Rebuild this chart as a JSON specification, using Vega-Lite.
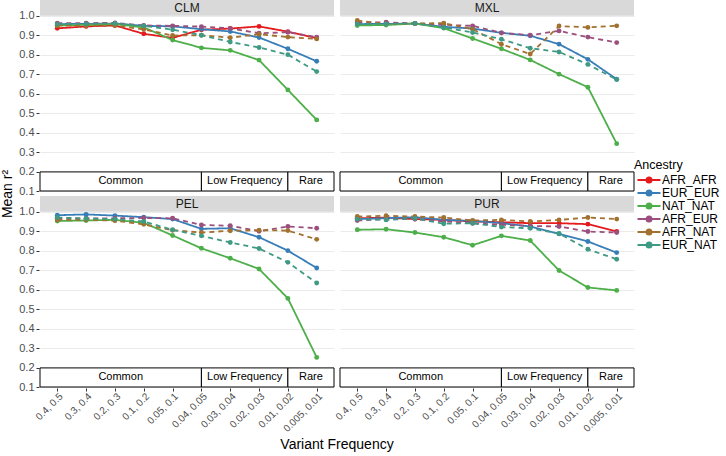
{
  "$schema": "https://vega.github.io/schema/vega-lite/v6.json",
  "padding": {"left": 0, "top": 0, "right": 0, "bottom": 0},
  "background": "white",
  "datasets": {
    "series": [
      {"Population":"CLM","Ancestry":"AFR_AFR","Bin":1,"r2":0.935},{"Population":"CLM","Ancestry":"AFR_AFR","Bin":2,"r2":0.945},{"Population":"CLM","Ancestry":"AFR_AFR","Bin":3,"r2":0.95},{"Population":"CLM","Ancestry":"AFR_AFR","Bin":4,"r2":0.907},{"Population":"CLM","Ancestry":"AFR_AFR","Bin":5,"r2":0.886},{"Population":"CLM","Ancestry":"AFR_AFR","Bin":6,"r2":0.928},{"Population":"CLM","Ancestry":"AFR_AFR","Bin":7,"r2":0.934},{"Population":"CLM","Ancestry":"AFR_AFR","Bin":8,"r2":0.945},{"Population":"CLM","Ancestry":"AFR_AFR","Bin":9,"r2":0.918},{"Population":"CLM","Ancestry":"AFR_AFR","Bin":10,"r2":0.885},
      {"Population":"CLM","Ancestry":"EUR_EUR","Bin":1,"r2":0.957},{"Population":"CLM","Ancestry":"EUR_EUR","Bin":2,"r2":0.958},{"Population":"CLM","Ancestry":"EUR_EUR","Bin":3,"r2":0.96},{"Population":"CLM","Ancestry":"EUR_EUR","Bin":4,"r2":0.948},{"Population":"CLM","Ancestry":"EUR_EUR","Bin":5,"r2":0.945},{"Population":"CLM","Ancestry":"EUR_EUR","Bin":6,"r2":0.931},{"Population":"CLM","Ancestry":"EUR_EUR","Bin":7,"r2":0.919},{"Population":"CLM","Ancestry":"EUR_EUR","Bin":8,"r2":0.888},{"Population":"CLM","Ancestry":"EUR_EUR","Bin":9,"r2":0.83},{"Population":"CLM","Ancestry":"EUR_EUR","Bin":10,"r2":0.766},
      {"Population":"CLM","Ancestry":"NAT_NAT","Bin":1,"r2":0.95},{"Population":"CLM","Ancestry":"NAT_NAT","Bin":2,"r2":0.953},{"Population":"CLM","Ancestry":"NAT_NAT","Bin":3,"r2":0.957},{"Population":"CLM","Ancestry":"NAT_NAT","Bin":4,"r2":0.94},{"Population":"CLM","Ancestry":"NAT_NAT","Bin":5,"r2":0.875},{"Population":"CLM","Ancestry":"NAT_NAT","Bin":6,"r2":0.835},{"Population":"CLM","Ancestry":"NAT_NAT","Bin":7,"r2":0.822},{"Population":"CLM","Ancestry":"NAT_NAT","Bin":8,"r2":0.772},{"Population":"CLM","Ancestry":"NAT_NAT","Bin":9,"r2":0.619},{"Population":"CLM","Ancestry":"NAT_NAT","Bin":10,"r2":0.465},
      {"Population":"CLM","Ancestry":"AFR_EUR","Bin":1,"r2":0.962},{"Population":"CLM","Ancestry":"AFR_EUR","Bin":2,"r2":0.962},{"Population":"CLM","Ancestry":"AFR_EUR","Bin":3,"r2":0.963},{"Population":"CLM","Ancestry":"AFR_EUR","Bin":4,"r2":0.95},{"Population":"CLM","Ancestry":"AFR_EUR","Bin":5,"r2":0.948},{"Population":"CLM","Ancestry":"AFR_EUR","Bin":6,"r2":0.944},{"Population":"CLM","Ancestry":"AFR_EUR","Bin":7,"r2":0.935},{"Population":"CLM","Ancestry":"AFR_EUR","Bin":8,"r2":0.91},{"Population":"CLM","Ancestry":"AFR_EUR","Bin":9,"r2":0.915},{"Population":"CLM","Ancestry":"AFR_EUR","Bin":10,"r2":0.89},
      {"Population":"CLM","Ancestry":"AFR_NAT","Bin":1,"r2":0.95},{"Population":"CLM","Ancestry":"AFR_NAT","Bin":2,"r2":0.948},{"Population":"CLM","Ancestry":"AFR_NAT","Bin":3,"r2":0.95},{"Population":"CLM","Ancestry":"AFR_NAT","Bin":4,"r2":0.93},{"Population":"CLM","Ancestry":"AFR_NAT","Bin":5,"r2":0.898},{"Population":"CLM","Ancestry":"AFR_NAT","Bin":6,"r2":0.9},{"Population":"CLM","Ancestry":"AFR_NAT","Bin":7,"r2":0.887},{"Population":"CLM","Ancestry":"AFR_NAT","Bin":8,"r2":0.905},{"Population":"CLM","Ancestry":"AFR_NAT","Bin":9,"r2":0.89},{"Population":"CLM","Ancestry":"AFR_NAT","Bin":10,"r2":0.881},
      {"Population":"CLM","Ancestry":"EUR_NAT","Bin":1,"r2":0.957},{"Population":"CLM","Ancestry":"EUR_NAT","Bin":2,"r2":0.958},{"Population":"CLM","Ancestry":"EUR_NAT","Bin":3,"r2":0.96},{"Population":"CLM","Ancestry":"EUR_NAT","Bin":4,"r2":0.948},{"Population":"CLM","Ancestry":"EUR_NAT","Bin":5,"r2":0.928},{"Population":"CLM","Ancestry":"EUR_NAT","Bin":6,"r2":0.9},{"Population":"CLM","Ancestry":"EUR_NAT","Bin":7,"r2":0.865},{"Population":"CLM","Ancestry":"EUR_NAT","Bin":8,"r2":0.837},{"Population":"CLM","Ancestry":"EUR_NAT","Bin":9,"r2":0.8},{"Population":"CLM","Ancestry":"EUR_NAT","Bin":10,"r2":0.713},
      {"Population":"MXL","Ancestry":"EUR_EUR","Bin":1,"r2":0.957},{"Population":"MXL","Ancestry":"EUR_EUR","Bin":2,"r2":0.958},{"Population":"MXL","Ancestry":"EUR_EUR","Bin":3,"r2":0.96},{"Population":"MXL","Ancestry":"EUR_EUR","Bin":4,"r2":0.943},{"Population":"MXL","Ancestry":"EUR_EUR","Bin":5,"r2":0.934},{"Population":"MXL","Ancestry":"EUR_EUR","Bin":6,"r2":0.912},{"Population":"MXL","Ancestry":"EUR_EUR","Bin":7,"r2":0.897},{"Population":"MXL","Ancestry":"EUR_EUR","Bin":8,"r2":0.854},{"Population":"MXL","Ancestry":"EUR_EUR","Bin":9,"r2":0.776},{"Population":"MXL","Ancestry":"EUR_EUR","Bin":10,"r2":0.674},
      {"Population":"MXL","Ancestry":"NAT_NAT","Bin":1,"r2":0.95},{"Population":"MXL","Ancestry":"NAT_NAT","Bin":2,"r2":0.952},{"Population":"MXL","Ancestry":"NAT_NAT","Bin":3,"r2":0.96},{"Population":"MXL","Ancestry":"NAT_NAT","Bin":4,"r2":0.936},{"Population":"MXL","Ancestry":"NAT_NAT","Bin":5,"r2":0.883},{"Population":"MXL","Ancestry":"NAT_NAT","Bin":6,"r2":0.83},{"Population":"MXL","Ancestry":"NAT_NAT","Bin":7,"r2":0.773},{"Population":"MXL","Ancestry":"NAT_NAT","Bin":8,"r2":0.7},{"Population":"MXL","Ancestry":"NAT_NAT","Bin":9,"r2":0.633},{"Population":"MXL","Ancestry":"NAT_NAT","Bin":10,"r2":0.343},
      {"Population":"MXL","Ancestry":"AFR_EUR","Bin":1,"r2":0.965},{"Population":"MXL","Ancestry":"AFR_EUR","Bin":2,"r2":0.966},{"Population":"MXL","Ancestry":"AFR_EUR","Bin":3,"r2":0.96},{"Population":"MXL","Ancestry":"AFR_EUR","Bin":4,"r2":0.953},{"Population":"MXL","Ancestry":"AFR_EUR","Bin":5,"r2":0.948},{"Population":"MXL","Ancestry":"AFR_EUR","Bin":6,"r2":0.912},{"Population":"MXL","Ancestry":"AFR_EUR","Bin":7,"r2":0.9},{"Population":"MXL","Ancestry":"AFR_EUR","Bin":8,"r2":0.922},{"Population":"MXL","Ancestry":"AFR_EUR","Bin":9,"r2":0.89},{"Population":"MXL","Ancestry":"AFR_EUR","Bin":10,"r2":0.862},
      {"Population":"MXL","Ancestry":"AFR_NAT","Bin":1,"r2":0.975},{"Population":"MXL","Ancestry":"AFR_NAT","Bin":2,"r2":0.958},{"Population":"MXL","Ancestry":"AFR_NAT","Bin":3,"r2":0.96},{"Population":"MXL","Ancestry":"AFR_NAT","Bin":4,"r2":0.962},{"Population":"MXL","Ancestry":"AFR_NAT","Bin":5,"r2":0.931},{"Population":"MXL","Ancestry":"AFR_NAT","Bin":6,"r2":0.854},{"Population":"MXL","Ancestry":"AFR_NAT","Bin":7,"r2":0.803},{"Population":"MXL","Ancestry":"AFR_NAT","Bin":8,"r2":0.947},{"Population":"MXL","Ancestry":"AFR_NAT","Bin":9,"r2":0.94},{"Population":"MXL","Ancestry":"AFR_NAT","Bin":10,"r2":0.948},
      {"Population":"MXL","Ancestry":"EUR_NAT","Bin":1,"r2":0.957},{"Population":"MXL","Ancestry":"EUR_NAT","Bin":2,"r2":0.958},{"Population":"MXL","Ancestry":"EUR_NAT","Bin":3,"r2":0.96},{"Population":"MXL","Ancestry":"EUR_NAT","Bin":4,"r2":0.94},{"Population":"MXL","Ancestry":"EUR_NAT","Bin":5,"r2":0.914},{"Population":"MXL","Ancestry":"EUR_NAT","Bin":6,"r2":0.879},{"Population":"MXL","Ancestry":"EUR_NAT","Bin":7,"r2":0.833},{"Population":"MXL","Ancestry":"EUR_NAT","Bin":8,"r2":0.814},{"Population":"MXL","Ancestry":"EUR_NAT","Bin":9,"r2":0.75},{"Population":"MXL","Ancestry":"EUR_NAT","Bin":10,"r2":0.672},
      {"Population":"PEL","Ancestry":"EUR_EUR","Bin":1,"r2":0.982},{"Population":"PEL","Ancestry":"EUR_EUR","Bin":2,"r2":0.986},{"Population":"PEL","Ancestry":"EUR_EUR","Bin":3,"r2":0.98},{"Population":"PEL","Ancestry":"EUR_EUR","Bin":4,"r2":0.972},{"Population":"PEL","Ancestry":"EUR_EUR","Bin":5,"r2":0.962},{"Population":"PEL","Ancestry":"EUR_EUR","Bin":6,"r2":0.912},{"Population":"PEL","Ancestry":"EUR_EUR","Bin":7,"r2":0.915},{"Population":"PEL","Ancestry":"EUR_EUR","Bin":8,"r2":0.869},{"Population":"PEL","Ancestry":"EUR_EUR","Bin":9,"r2":0.8},{"Population":"PEL","Ancestry":"EUR_EUR","Bin":10,"r2":0.711},
      {"Population":"PEL","Ancestry":"NAT_NAT","Bin":1,"r2":0.952},{"Population":"PEL","Ancestry":"NAT_NAT","Bin":2,"r2":0.955},{"Population":"PEL","Ancestry":"NAT_NAT","Bin":3,"r2":0.958},{"Population":"PEL","Ancestry":"NAT_NAT","Bin":4,"r2":0.943},{"Population":"PEL","Ancestry":"NAT_NAT","Bin":5,"r2":0.878},{"Population":"PEL","Ancestry":"NAT_NAT","Bin":6,"r2":0.812},{"Population":"PEL","Ancestry":"NAT_NAT","Bin":7,"r2":0.761},{"Population":"PEL","Ancestry":"NAT_NAT","Bin":8,"r2":0.706},{"Population":"PEL","Ancestry":"NAT_NAT","Bin":9,"r2":0.555},{"Population":"PEL","Ancestry":"NAT_NAT","Bin":10,"r2":0.252},
      {"Population":"PEL","Ancestry":"AFR_EUR","Bin":1,"r2":0.966},{"Population":"PEL","Ancestry":"AFR_EUR","Bin":2,"r2":0.966},{"Population":"PEL","Ancestry":"AFR_EUR","Bin":3,"r2":0.966},{"Population":"PEL","Ancestry":"AFR_EUR","Bin":4,"r2":0.968},{"Population":"PEL","Ancestry":"AFR_EUR","Bin":5,"r2":0.966},{"Population":"PEL","Ancestry":"AFR_EUR","Bin":6,"r2":0.932},{"Population":"PEL","Ancestry":"AFR_EUR","Bin":7,"r2":0.928},{"Population":"PEL","Ancestry":"AFR_EUR","Bin":8,"r2":0.9},{"Population":"PEL","Ancestry":"AFR_EUR","Bin":9,"r2":0.924},{"Population":"PEL","Ancestry":"AFR_EUR","Bin":10,"r2":0.915},
      {"Population":"PEL","Ancestry":"AFR_NAT","Bin":1,"r2":0.958},{"Population":"PEL","Ancestry":"AFR_NAT","Bin":2,"r2":0.958},{"Population":"PEL","Ancestry":"AFR_NAT","Bin":3,"r2":0.954},{"Population":"PEL","Ancestry":"AFR_NAT","Bin":4,"r2":0.935},{"Population":"PEL","Ancestry":"AFR_NAT","Bin":5,"r2":0.905},{"Population":"PEL","Ancestry":"AFR_NAT","Bin":6,"r2":0.893},{"Population":"PEL","Ancestry":"AFR_NAT","Bin":7,"r2":0.902},{"Population":"PEL","Ancestry":"AFR_NAT","Bin":8,"r2":0.905},{"Population":"PEL","Ancestry":"AFR_NAT","Bin":9,"r2":0.903},{"Population":"PEL","Ancestry":"AFR_NAT","Bin":10,"r2":0.858},
      {"Population":"PEL","Ancestry":"EUR_NAT","Bin":1,"r2":0.97},{"Population":"PEL","Ancestry":"EUR_NAT","Bin":2,"r2":0.965},{"Population":"PEL","Ancestry":"EUR_NAT","Bin":3,"r2":0.962},{"Population":"PEL","Ancestry":"EUR_NAT","Bin":4,"r2":0.95},{"Population":"PEL","Ancestry":"EUR_NAT","Bin":5,"r2":0.907},{"Population":"PEL","Ancestry":"EUR_NAT","Bin":6,"r2":0.876},{"Population":"PEL","Ancestry":"EUR_NAT","Bin":7,"r2":0.842},{"Population":"PEL","Ancestry":"EUR_NAT","Bin":8,"r2":0.811},{"Population":"PEL","Ancestry":"EUR_NAT","Bin":9,"r2":0.74},{"Population":"PEL","Ancestry":"EUR_NAT","Bin":10,"r2":0.634},
      {"Population":"PUR","Ancestry":"AFR_AFR","Bin":1,"r2":0.966},{"Population":"PUR","Ancestry":"AFR_AFR","Bin":2,"r2":0.97},{"Population":"PUR","Ancestry":"AFR_AFR","Bin":3,"r2":0.962},{"Population":"PUR","Ancestry":"AFR_AFR","Bin":4,"r2":0.958},{"Population":"PUR","Ancestry":"AFR_AFR","Bin":5,"r2":0.95},{"Population":"PUR","Ancestry":"AFR_AFR","Bin":6,"r2":0.946},{"Population":"PUR","Ancestry":"AFR_AFR","Bin":7,"r2":0.941},{"Population":"PUR","Ancestry":"AFR_AFR","Bin":8,"r2":0.941},{"Population":"PUR","Ancestry":"AFR_AFR","Bin":9,"r2":0.936},{"Population":"PUR","Ancestry":"AFR_AFR","Bin":10,"r2":0.898},
      {"Population":"PUR","Ancestry":"EUR_EUR","Bin":1,"r2":0.962},{"Population":"PUR","Ancestry":"EUR_EUR","Bin":2,"r2":0.967},{"Population":"PUR","Ancestry":"EUR_EUR","Bin":3,"r2":0.972},{"Population":"PUR","Ancestry":"EUR_EUR","Bin":4,"r2":0.958},{"Population":"PUR","Ancestry":"EUR_EUR","Bin":5,"r2":0.953},{"Population":"PUR","Ancestry":"EUR_EUR","Bin":6,"r2":0.941},{"Population":"PUR","Ancestry":"EUR_EUR","Bin":7,"r2":0.924},{"Population":"PUR","Ancestry":"EUR_EUR","Bin":8,"r2":0.886},{"Population":"PUR","Ancestry":"EUR_EUR","Bin":9,"r2":0.847},{"Population":"PUR","Ancestry":"EUR_EUR","Bin":10,"r2":0.79},
      {"Population":"PUR","Ancestry":"NAT_NAT","Bin":1,"r2":0.907},{"Population":"PUR","Ancestry":"NAT_NAT","Bin":2,"r2":0.91},{"Population":"PUR","Ancestry":"NAT_NAT","Bin":3,"r2":0.893},{"Population":"PUR","Ancestry":"NAT_NAT","Bin":4,"r2":0.869},{"Population":"PUR","Ancestry":"NAT_NAT","Bin":5,"r2":0.828},{"Population":"PUR","Ancestry":"NAT_NAT","Bin":6,"r2":0.876},{"Population":"PUR","Ancestry":"NAT_NAT","Bin":7,"r2":0.852},{"Population":"PUR","Ancestry":"NAT_NAT","Bin":8,"r2":0.698},{"Population":"PUR","Ancestry":"NAT_NAT","Bin":9,"r2":0.611},{"Population":"PUR","Ancestry":"NAT_NAT","Bin":10,"r2":0.596},
      {"Population":"PUR","Ancestry":"AFR_EUR","Bin":1,"r2":0.955},{"Population":"PUR","Ancestry":"AFR_EUR","Bin":2,"r2":0.962},{"Population":"PUR","Ancestry":"AFR_EUR","Bin":3,"r2":0.962},{"Population":"PUR","Ancestry":"AFR_EUR","Bin":4,"r2":0.95},{"Population":"PUR","Ancestry":"AFR_EUR","Bin":5,"r2":0.941},{"Population":"PUR","Ancestry":"AFR_EUR","Bin":6,"r2":0.933},{"Population":"PUR","Ancestry":"AFR_EUR","Bin":7,"r2":0.927},{"Population":"PUR","Ancestry":"AFR_EUR","Bin":8,"r2":0.924},{"Population":"PUR","Ancestry":"AFR_EUR","Bin":9,"r2":0.898},{"Population":"PUR","Ancestry":"AFR_EUR","Bin":10,"r2":0.893},
      {"Population":"PUR","Ancestry":"AFR_NAT","Bin":1,"r2":0.975},{"Population":"PUR","Ancestry":"AFR_NAT","Bin":2,"r2":0.979},{"Population":"PUR","Ancestry":"AFR_NAT","Bin":3,"r2":0.975},{"Population":"PUR","Ancestry":"AFR_NAT","Bin":4,"r2":0.97},{"Population":"PUR","Ancestry":"AFR_NAT","Bin":5,"r2":0.955},{"Population":"PUR","Ancestry":"AFR_NAT","Bin":6,"r2":0.958},{"Population":"PUR","Ancestry":"AFR_NAT","Bin":7,"r2":0.95},{"Population":"PUR","Ancestry":"AFR_NAT","Bin":8,"r2":0.958},{"Population":"PUR","Ancestry":"AFR_NAT","Bin":9,"r2":0.97},{"Population":"PUR","Ancestry":"AFR_NAT","Bin":10,"r2":0.962},
      {"Population":"PUR","Ancestry":"EUR_NAT","Bin":1,"r2":0.962},{"Population":"PUR","Ancestry":"EUR_NAT","Bin":2,"r2":0.958},{"Population":"PUR","Ancestry":"EUR_NAT","Bin":3,"r2":0.965},{"Population":"PUR","Ancestry":"EUR_NAT","Bin":4,"r2":0.938},{"Population":"PUR","Ancestry":"EUR_NAT","Bin":5,"r2":0.941},{"Population":"PUR","Ancestry":"EUR_NAT","Bin":6,"r2":0.921},{"Population":"PUR","Ancestry":"EUR_NAT","Bin":7,"r2":0.915},{"Population":"PUR","Ancestry":"EUR_NAT","Bin":8,"r2":0.888},{"Population":"PUR","Ancestry":"EUR_NAT","Bin":9,"r2":0.807},{"Population":"PUR","Ancestry":"EUR_NAT","Bin":10,"r2":0.756},
      {"Population":"CLM","Class":"Common","From":0.4,"To":6},{"Population":"CLM","Class":"Low Frequency","From":6,"To":9},{"Population":"CLM","Class":"Rare","From":9,"To":10.6},
      {"Population":"MXL","Class":"Common","From":0.4,"To":6},{"Population":"MXL","Class":"Low Frequency","From":6,"To":9},{"Population":"MXL","Class":"Rare","From":9,"To":10.6},
      {"Population":"PEL","Class":"Common","From":0.4,"To":6},{"Population":"PEL","Class":"Low Frequency","From":6,"To":9},{"Population":"PEL","Class":"Rare","From":9,"To":10.6},
      {"Population":"PUR","Class":"Common","From":0.4,"To":6},{"Population":"PUR","Class":"Low Frequency","From":6,"To":9},{"Population":"PUR","Class":"Rare","From":9,"To":10.6}
    ]
  },
  "data": {"name": "series"},
  "transform": [
    {"calculate": "indexof(['CLM','MXL'], datum.Population) >= 0 ? 'top' : 'bottom'", "as": "PanelRow"},
    {"calculate": "indexof(['CLM','PEL'], datum.Population) >= 0 ? 'left' : 'right'", "as": "PanelCol"}
  ],
  "facet": {
    "row": {"field": "PanelRow", "type": "nominal", "sort": ["top", "bottom"],
      "header": {"title": "Mean r²", "labels": false, "labelPadding": 0, "titleOrient": "left", "titleFontSize": 14, "titleFontWeight": "normal", "titleColor": "black", "titlePadding": -7}},
    "column": {"field": "PanelCol", "type": "nominal", "sort": ["left", "right"],
      "header": {"title": "Variant Frequency", "labels": false, "labelPadding": 0, "titleOrient": "bottom", "titleFontSize": 14, "titleFontWeight": "normal", "titleColor": "black", "titlePadding": -6}}
  },
  "spacing": {"row": 4, "column": 4},
  "spec": {
    "width": 294,
    "height": 191,
    "layer": [
      {
        "transform": [{"filter": "isValid(datum.r2)"}, {"aggregate": [{"op": "count", "as": "n"}], "groupby": ["Population", "PanelRow", "PanelCol"]}],
        "mark": {"type": "rect", "fill": "#D9D9D9"},
        "encoding": {
          "x": {"datum": 0.4, "type": "quantitative", "title": null},
          "x2": {"datum": 10.6},
          "y": {"datum": 1.0, "type": "quantitative", "title": null},
          "y2": {"datum": 1.0806}
        }
      },
      {
        "transform": [{"filter": "isValid(datum.r2)"}, {"aggregate": [{"op": "count", "as": "n"}], "groupby": ["Population", "PanelRow", "PanelCol"]}],
        "mark": {"type": "text", "fontSize": 12, "fontWeight": "normal", "color": "#1A1A1A", "baseline": "middle", "align": "center"},
        "encoding": {
          "x": {"datum": 5.5, "type": "quantitative", "title": null},
          "y": {"datum": 1.041, "type": "quantitative", "title": null},
          "text": {"field": "Population"}
        }
      },
      {
        "transform": [{"filter": "isValid(datum.Class)"}],
        "mark": {"type": "rect", "fill": "white", "stroke": "black", "strokeWidth": 1},
        "encoding": {
          "x": {"field": "From", "type": "quantitative", "title": null},
          "x2": {"field": "To"},
          "y": {"datum": 0.1, "type": "quantitative", "title": null},
          "y2": {"datum": 0.198}
        }
      },
      {
        "transform": [{"filter": "isValid(datum.Class)"}, {"calculate": "(datum.From + datum.To) / 2", "as": "Mid"}],
        "mark": {"type": "text", "fontSize": 11, "color": "black", "baseline": "middle", "align": "center"},
        "encoding": {
          "x": {"field": "Mid", "type": "quantitative", "title": null},
          "y": {"datum": 0.149, "type": "quantitative", "title": null},
          "text": {"field": "Class"}
        }
      },
      {
        "transform": [{"filter": "isValid(datum.r2)"}],
        "mark": {"type": "line", "strokeWidth": 1.8},
        "encoding": {
          "x": {"field": "Bin", "type": "quantitative", "title": null,
            "scale": {"domain": [0.4, 10.6], "nice": false, "zero": false},
            "axis": {"values": [1,2,3,4,5,6,7,8,9,10], "tickCount": 30, "grid": false, "domain": false, "tickSize": 3, "tickColor": "#333333", "labelColor": "#4D4D4D", "labelFontSize": 10, "labelAngle": -45, "labelAlign": "right", "labelBaseline": "top", "labelPadding": 0, "labelOverlap": false, "labelFlush": false, "labelBound": false,
              "labelExpr": "['0.4, 0.5','0.3, 0.4','0.2, 0.3','0.1, 0.2','0.05, 0.1','0.04, 0.05','0.03, 0.04','0.02, 0.03','0.01, 0.02','0.005, 0.01'][datum.value - 1]"}},
          "y": {"field": "r2", "type": "quantitative", "title": null,
            "scale": {"domain": [0.1, 1.0806], "nice": false, "zero": false},
            "axis": {"values": [0.1,0.2,0.3,0.4,0.5,0.6,0.7,0.8,0.9,1.0], "tickCount": 30, "format": ".1f", "grid": true, "gridColor": "#EBEBEB", "gridWidth": 1, "domain": false, "tickSize": 3, "tickColor": "#333333", "labelColor": "#4D4D4D", "labelFontSize": 11, "labelPadding": 2, "labelOverlap": false, "labelFlush": false, "labelBound": false}},
          "color": {"field": "Ancestry", "type": "nominal",
            "scale": {"domain": ["AFR_AFR","EUR_EUR","NAT_NAT","AFR_EUR","AFR_NAT","EUR_NAT"], "range": ["#E41A1C","#377EB8","#4DAF4A","#9B4F7E","#A2702F","#3F9A84"]},
            "legend": {"title": "Ancestry", "orient": "none", "legendX": 594, "legendY": 159, "titleFontSize": 12.5, "titleFontWeight": "normal", "titleColor": "black", "labelFontSize": 12, "labelColor": "black", "symbolType": "M-0.5,0L4.1,0M1.3,0A0.5,0.5,0,1,0,2.3,0A0.5,0.5,0,1,0,1.3,0", "symbolSize": 100, "symbolStrokeWidth": 2, "rowPadding": 0, "clipHeight": 11, "labelOffset": 16, "titlePadding": 3,
              "encode": {"symbols": {"update": {"fill": {"scale": "color", "field": "value"}, "stroke": {"scale": "color", "field": "value"}}}}}},
          "strokeDash": {"condition": {"test": "indexof(['AFR_EUR','AFR_NAT','EUR_NAT'], datum.Ancestry) >= 0", "value": [5, 4]}, "value": [1, 0]}
        }
      },
      {
        "transform": [{"filter": "isValid(datum.r2)"}],
        "mark": {"type": "point", "filled": true, "opacity": 1, "size": 24},
        "encoding": {
          "x": {"field": "Bin", "type": "quantitative", "title": null},
          "y": {"field": "r2", "type": "quantitative", "title": null},
          "color": {"field": "Ancestry", "type": "nominal"}
        }
      }
    ]
  },
  "config": {
    "font": "Liberation Sans",
    "view": {"stroke": null},
    "axis": {"labelOverlap": false, "labelFlush": false}
  }
}
